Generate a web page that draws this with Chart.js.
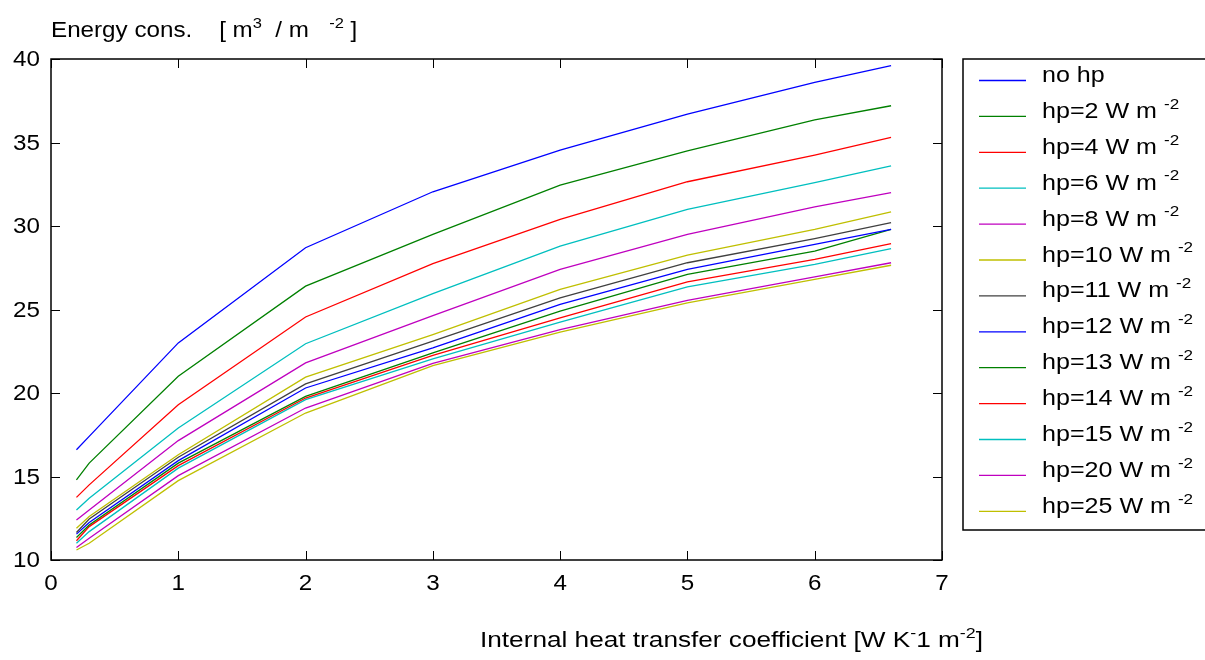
<!DOCTYPE html>
<html>
<head>
<meta charset="utf-8">
<title>Energy consumption</title>
<script src="https://cdn.jsdelivr.net/npm/chart.js@4/dist/chart.umd.min.js"></script>
<style>
	html, body { margin: 0; padding: 0; background: #fff; }
	#wrap { width: 1205px; height: 660px; position: relative; }
</style>
</head>
<body>
<div id="wrap"><canvas id="myChart"></canvas></div>
<script>
'use strict';

// data
var xValues = [0.2, 0.3, 1, 2, 3, 4, 5, 6, 6.6];
var seriesNames = ['no hp', 'hp=2', 'hp=4', 'hp=6', 'hp=8', 'hp=10', 'hp=11', 'hp=12', 'hp=13', 'hp=14', 'hp=15', 'hp=20', 'hp=25'];
var noHp = [16.6, 17.4, 23.0, 28.7, 32.05, 34.55, 36.7, 38.6, 39.6];
var hp2  = [14.8, 15.8, 21.0, 26.4, 29.5, 32.45, 34.5, 36.35, 37.2];
var hp4  = [13.75, 14.5, 19.3, 24.55, 27.75, 30.4, 32.65, 34.25, 35.3];
var hp6  = [13.0, 13.7, 17.9, 22.95, 25.95, 28.8, 31.0, 32.6, 33.6];
var hp8  = [12.4, 13.0, 17.15, 21.8, 24.63, 27.4, 29.5, 31.15, 32.0];
var hp10 = [11.9, 12.6, 16.3, 20.95, 23.5, 26.2, 28.25, 29.8, 30.85];
var hp11 = [11.65, 12.45, 16.15, 20.55, 23.1, 25.7, 27.8, 29.25, 30.2];
var hp12 = [11.55, 12.25, 15.95, 20.3, 22.7, 25.3, 27.4, 28.9, 29.8];
var hp13 = [11.35, 12.1, 15.8, 19.8, 22.4, 24.9, 27.1, 28.5, 29.8];
var hp14 = [11.15, 12.0, 15.65, 19.7, 22.25, 24.5, 26.65, 28.0, 28.95];
var hp15 = [11.0, 11.7, 15.5, 19.6, 22.05, 24.25, 26.35, 27.7, 28.65];
var hp20 = [10.75, 11.3, 15.05, 19.1, 21.78, 23.8, 25.55, 26.95, 27.8];
var hp25 = [10.6, 11.0, 14.75, 18.8, 21.64, 23.65, 25.4, 26.8, 27.65];
var allSeries = [noHp, hp2, hp4, hp6, hp8, hp10, hp11, hp12, hp13, hp14, hp15, hp20, hp25];
var xTicks = [0, 1, 2, 3, 4, 5, 6, 7];
var yTicks = [10, 15, 20, 25, 30, 35, 40];

var lineColors = ['#0000ff', '#008000', '#ff0000', '#00bfbf', '#bf00bf', '#bfbf00', '#404040',
	'#0000ff', '#008000', '#ff0000', '#00bfbf', '#bf00bf', '#bfbf00'];
var fontName = "'Liberation Sans', Arial, Helvetica, sans-serif";

var datasets = allSeries.map(function (ys, i) {
	return {
		label: seriesNames[i],
		data: ys.map(function (y, j) { return {x: xValues[j], y: y}; }),
		borderColor: lineColors[i],
		backgroundColor: lineColors[i],
		borderWidth: 1.3,
		pointRadius: 0,
		showLine: true,
		tension: 0
	};
});

// the original lettering is a bit wider than Arial, so stretch it sideways
function wideText(ctx, text, x, y, align, sx) {
	var w = ctx.measureText(text).width * sx;
	if (align === 'right') x -= w;
	if (align === 'center') x -= w / 2;
	ctx.save();
	ctx.translate(x, y);
	ctx.scale(sx, 1);
	ctx.fillText(text, 0, 0);
	ctx.restore();
	return w;
}

// draws text pieces one after another, sup pieces raised and smaller
function drawRich(ctx, parts, x, y, size, sx) {
	parts.forEach(function (p) {
		var s = p.sup ? Math.round(size * 0.68) : size;
		ctx.font = s + 'px ' + fontName;
		x += wideText(ctx, p.t, x, p.sup ? y - size * 0.42 : y, 'left', sx);
	});
}

var decorations = {
	id: 'decorations',
	afterDraw: function (chart) {
		var ctx = chart.ctx;
		var a = chart.chartArea;
		var xs = chart.scales.x, ys = chart.scales.y;
		ctx.save();
		ctx.strokeStyle = '#000';
		ctx.lineWidth = 1.5;
		ctx.strokeRect(a.left, a.top, a.right - a.left, a.bottom - a.top);
		ctx.lineWidth = 1;
		ctx.beginPath();
		xTicks.forEach(function (v) {
			var px = Math.round(xs.getPixelForValue(v)) + 0.5;
			ctx.moveTo(px, a.bottom); ctx.lineTo(px, a.bottom - 9);
			ctx.moveTo(px, a.top); ctx.lineTo(px, a.top + 9);
		});
		yTicks.forEach(function (v) {
			var py = Math.round(ys.getPixelForValue(v)) + 0.5;
			ctx.moveTo(a.left, py); ctx.lineTo(a.left + 9, py);
			ctx.moveTo(a.right, py); ctx.lineTo(a.right - 9, py);
		});
		ctx.stroke();

		// tick labels
		ctx.fillStyle = '#000';
		ctx.font = '22px ' + fontName;
		ctx.textBaseline = 'middle';
		ctx.textAlign = 'left';
		yTicks.forEach(function (v) {
			wideText(ctx, String(v), a.left - 11, ys.getPixelForValue(v) + 1, 'right', 1.1);
		});
		xTicks.forEach(function (v) {
			wideText(ctx, String(v), xs.getPixelForValue(v), a.bottom + 24, 'center', 1.1);
		});

		// titles
		ctx.textBaseline = 'alphabetic';
		drawRich(ctx, [{t: 'Energy cons.    [ m'}, {t: '3', sup: true}, {t: '  / m   '}, {t: '-2', sup: true}, {t: ' ]'}], 51, 37, 22, 1.1);
		drawRich(ctx, [{t: 'Internal heat transfer coefficient [W K'}, {t: '-', sup: true}, {t: '1 m'}, {t: '-2', sup: true}, {t: ']'}], 480, 647, 22, 1.19);

		// legend
		var lx = 963, ly = 59, rowH = 35.9;
		ctx.lineWidth = 1.5;
		ctx.strokeRect(lx, ly, 260, 471);
		chart.data.datasets.forEach(function (ds, i) {
			var yy = 80 + i * rowH;
			ctx.strokeStyle = ds.borderColor;
			ctx.lineWidth = 1.3;
			ctx.beginPath();
			ctx.moveTo(979, yy + 0.5); ctx.lineTo(1026, yy + 0.5);
			ctx.stroke();
			if (i === 0) {
				drawRich(ctx, [{t: ds.label}], 1042, yy + 1.5, 22, 1.14);
			} else {
				drawRich(ctx, [{t: ds.label + ' W m '}, {t: '-2', sup: true}], 1042, yy + 2, 22, 1.14);
			}
		});
		ctx.restore();
	}
};

var ctx = document.getElementById('myChart').getContext('2d');
var myChart = new Chart(ctx, {
	type: 'scatter',
	data: {datasets: datasets},
	options: {
		responsive: true,
		maintainAspectRatio: false,
		animation: false,
		layout: {padding: {left: 0, top: 59, right: 263, bottom: 0}},
		plugins: {legend: {display: false}, tooltip: {enabled: false}},
		scales: {
			x: {
				type: 'linear', min: 0, max: 7,
				afterBuildTicks: function (s) { s.ticks = xTicks.map(function (v) { return {value: v}; }); },
				afterFit: function (s) { s.height = 100; },
				grid: {display: false, drawTicks: false},
				border: {display: false},
				ticks: {display: false}
			},
			y: {
				type: 'linear', min: 10, max: 40,
				afterBuildTicks: function (s) { s.ticks = yTicks.map(function (v) { return {value: v}; }); },
				afterFit: function (s) { s.width = 51; },
				grid: {display: false, drawTicks: false},
				border: {display: false},
				ticks: {display: false}
			}
		}
	},
	plugins: [decorations]
});
</script>
</body>
</html>
